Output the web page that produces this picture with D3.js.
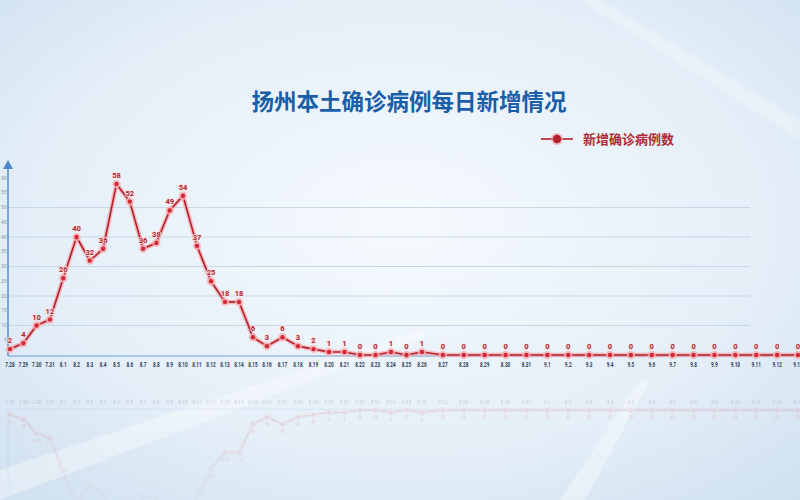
<!DOCTYPE html>
<html><head><meta charset="utf-8">
<script src="https://cdn.jsdelivr.net/npm/d3@7"></script>
<style>html,body{margin:0;padding:0;overflow:hidden;background:#e9f2fa}</style>
</head><body><svg id="c" width="800" height="500"></svg>
<script>
const title = "扬州本土确诊病例每日新增情况";
const seriesName = "新增确诊病例数";
const dates = ["7.28","7.29","7.30","7.31","8.1","8.2","8.3","8.4","8.5","8.6","8.7","8.8","8.9","8.10","8.11","8.12","8.13","8.14","8.15","8.16","8.17","8.18","8.19","8.20","8.21","8.22","8.23","8.24","8.25","8.26","8.27","8.28","8.29","8.30","8.31","9.1","9.2","9.3","9.4","9.5","9.6","9.7","9.8","9.9","9.10","9.11","9.12","9.13"];
const values = [2,4,10,12,26,40,32,36,58,52,36,38,49,54,37,25,18,18,6,3,6,3,2,1,1,0,0,1,0,1,0,0,0,0,0,0,0,0,0,0,0,0,0,0,0,0,0,0];
const yTicks = [5,10,15,20,25,30,35,40,45,50,55,60];
const gridTicks = [10,20,30,40,50];

const svg = d3.select("#c");
const defs = svg.append("defs");
const bg = defs.append("radialGradient").attr("id","bg").attr("cx","50%").attr("cy","45%").attr("r","75%");
bg.append("stop").attr("offset","0%").attr("stop-color","#f5fafe");
bg.append("stop").attr("offset","60%").attr("stop-color","#e5eff8");
bg.append("stop").attr("offset","100%").attr("stop-color","#cfe0f0");
svg.append("rect").attr("width",800).attr("height",500).attr("fill","url(#bg)");
const fadeG = defs.append("linearGradient").attr("id","fade").attr("x1",0).attr("y1",0).attr("x2",0).attr("y2",1);
fadeG.append("stop").attr("offset","0%").attr("stop-color","#fff").attr("stop-opacity",1);
fadeG.append("stop").attr("offset","100%").attr("stop-color","#fff").attr("stop-opacity",0.15);
const mask = defs.append("mask").attr("id","m");
mask.append("rect").attr("x",0).attr("y",372).attr("width",800).attr("height",128).attr("fill","url(#fade)");

const rays = svg.append("g").attr("fill","#ffffff");
rays.append("path").attr("d","M0,470 L420,330 L430,335 L0,500 Z").attr("opacity",0.35);
rays.append("path").attr("d","M560,500 L640,380 L650,380 L585,500 Z").attr("opacity",0.35);
rays.append("path").attr("d","M930,500 L880,400 L870,400 L905,500 Z").attr("opacity",0.3);
rays.append("path").attr("d","M600,0 L800,120 L800,140 L580,0 Z").attr("opacity",0.25);

const x = d3.scaleLinear().domain([0,13,19,29,47]).range([10,183,267,422,798]);
const y = d3.scaleLinear().domain([0,60]).range([355,178]);

function drawChart(g, isRefl){
  g.append("g").selectAll("line").data(gridTicks).join("line")
    .attr("x1",8).attr("x2",750).attr("y1",d=>y(d)).attr("y2",d=>y(d))
    .attr("stroke","#c8d7e7").attr("stroke-width",1);
  g.append("line").attr("x1",8).attr("x2",800).attr("y1",356).attr("y2",356).attr("stroke","#6e9fd6").attr("stroke-width",1.2);
  g.append("line").attr("x1",8).attr("x2",8).attr("y1",167).attr("y2",356).attr("stroke","#4f88cc").attr("stroke-width",1.4);
  g.append("path").attr("d","M3,169 L8,160 L13,169 Z").attr("fill","#4f88cc");
  if(!isRefl){
    g.append("g").selectAll("text").data(yTicks).join("text")
      .attr("x",6.5).attr("y",d=>y(d)+1.5).attr("text-anchor","end")
      .attr("font-size",4.5).attr("fill","#7a8aa0").attr("font-family","'Noto Sans'").text(d=>d);
  }
  g.append("g").selectAll("text").data(dates).join("text")
    .attr("transform",(d,i)=>`translate(${x(i)},367) scale(0.72,1)`).attr("text-anchor","middle")
    .attr("font-size",6.5).attr("font-weight","bold").attr("fill","#2c3b58")
    .attr("font-family","Roboto, 'Noto Sans'").text(d=>d);
  const line = d3.line().x((d,i)=>x(i)).y(d=>y(d));
  g.append("path").datum(values).attr("d",line).attr("fill","none")
    .attr("stroke","#f2a3a8").attr("stroke-width",4.5).attr("stroke-opacity",0.7).attr("stroke-linejoin","round");
  g.append("path").datum(values).attr("d",line).attr("fill","none")
    .attr("stroke","#b3202b").attr("stroke-width",1.6).attr("stroke-linejoin","round");
  g.append("g").selectAll("circle").data(values).join("circle")
    .attr("cx",(d,i)=>x(i)).attr("cy",d=>y(d)).attr("r",4.2).attr("fill","#f7b2b6").attr("opacity",0.8);
  g.append("g").selectAll("circle").data(values).join("circle")
    .attr("cx",(d,i)=>x(i)).attr("cy",d=>y(d)).attr("r",2.2).attr("fill","#cf2a36");
  const lbl = values.map((v,i)=>({v,i})).filter(o=>!isRefl || y(o.v) > 265);
  g.append("g").selectAll("text").data(lbl).join("text")
    .attr("x",o=>x(o.i)).attr("y",o=>y(o.v)-6).attr("text-anchor","middle")
    .attr("font-size",7.5).attr("font-weight","bold").attr("fill","#a8272f")
    .attr("font-family","Roboto, 'Noto Sans'")
    .attr("stroke","#ffe1e3").attr("stroke-width",1.5).attr("paint-order","stroke")
    .text(o=>o.v);
}
drawChart(svg.append("g"), false);
const refl = svg.append("g").attr("mask","url(#m)").append("g")
  .attr("opacity",0.18).attr("transform","translate(0,694) scale(1,-0.8)");
drawChart(refl, true);

svg.append("text").attr("x",409).attr("y",110).attr("text-anchor","middle")
  .attr("font-size",22.5).attr("font-weight","bold").attr("fill","#1b5ea8")
  .attr("font-family","'Noto Sans CJK SC'").text(title);
const lg = svg.append("g");
lg.append("line").attr("x1",541).attr("x2",573).attr("y1",139).attr("y2",139).attr("stroke","#b3202b").attr("stroke-width",1.6);
lg.append("circle").attr("cx",557).attr("cy",139).attr("r",6).attr("fill","#f2a3a8").attr("opacity",0.7);
lg.append("circle").attr("cx",557).attr("cy",139).attr("r",4.2).attr("fill","#b3202b");
lg.append("text").attr("x",583).attr("y",144).attr("font-size",13).attr("font-weight","bold")
  .attr("fill","#b02a35").attr("font-family","'Noto Sans CJK SC'").text(seriesName);
</script></body></html>
